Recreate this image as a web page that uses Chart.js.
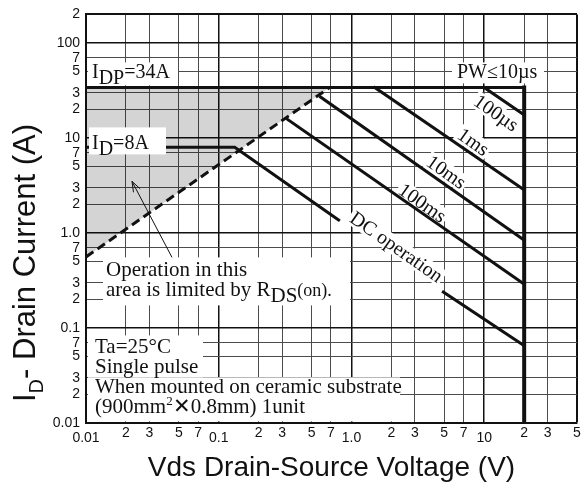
<!DOCTYPE html>
<html>
<head>
<meta charset="utf-8">
<script src="https://cdn.jsdelivr.net/npm/chart.js@4.4.0/dist/chart.umd.min.js"></script>
<style>
  html, body { margin: 0; padding: 0; background: #fff; }
</style>
</head>
<body>
<canvas id="soa" width="587" height="485"></canvas>
<script>
// axis ticks and the text printed next to them
const xTicks = [0.01,0.02,0.03,0.05,0.07,0.1,0.2,0.3,0.5,0.7,1,2,3,5,7,10,20,30,50];
const xTickLabels = ['0.01','2','3','5','7','0.1','2','3','5','7','1.0','2','3','5','7','10','2','3','5'];
const yTicks = [0.01,0.02,0.03,0.05,0.07,0.1,0.2,0.3,0.5,0.7,1,2,3,5,7,10,20,30,50,70,100,200];
const yTickLabels = ['0.01','2','3','5','7','0.1','2','3','5','7','1.0','2','3','5','7','10','2','3','5','7','100','2'];

// curves, Vds (V) against Id (A)
const idpV = [0.01, 20];     const idpI = [34, 34];
const vmaxV = [20, 20];      const vmaxI = [34, 0.01];
const rdsV = [0.01, 0.684];  const rdsI = [0.56, 34];
const us100V = [10, 20];     const us100I = [34, 17.5];
const ms1V = [1.5, 20];      const ms1I = [34, 2.84];
const ms10V = [0.585, 20];   const ms10I = [27, 0.84];
const ms100V = [0.324, 20];  const ms100I = [16, 0.29];
const dcV = [0.01, 0.132, 0.80, null, 4.92, 20];
const dcI = [8, 8, 1.37, null, 0.239, 0.065];

// labels written along the curves (centre given in data units)
const curveLabels = [
  { text: '100µs', x: 12.3, y: 18.3 },
  { text: '1ms', x: 8.26, y: 9.08 },
  { text: '10ms', x: 5.18, y: 4.38 },
  { text: '100ms', x: 3.42, y: 2.07 },
  { text: 'DC operation', x: 2.18, y: 0.713 }
];

const serif = '"Liberation Serif", "Times New Roman", serif';
const sans = '"Liberation Sans", Arial, sans-serif';

const pts = (xs, ys) => xs.map((v, i) => ({ x: v, y: ys[i] }));
const isDecade = v => Math.abs(Math.log10(v) - Math.round(Math.log10(v))) < 1e-6;

function curve(data, extra) {
  return Object.assign({
    data: data,
    borderColor: '#111',
    borderWidth: 3,
    pointRadius: 0,
    fill: false,
    tension: 0,
    spanGaps: false,
    borderCapStyle: 'square'
  }, extra || {});
}

// text made of pieces, each with its own size and vertical shift
function runs(ctx, x, y, parts) {
  let cx = x;
  for (const [t, size, dy] of parts) {
    ctx.font = size + 'px ' + serif;
    ctx.fillText(t, cx, y + dy);
    cx += ctx.measureText(t).width;
  }
  return cx;
}

// boxes and texts placed relative to the plot area (left, top)
const notes = [
  { boxes: [[2, 48, 90, 23]], lines: [[6, 64, [['I', 20, 0], ['DP', 20, 6], ['=34A', 20, 0]]]] },
  { boxes: [[366, 48, 92, 21]], lines: [[371, 64, [['PW≤10µs', 20, 0]]]] },
  { boxes: [[3, 113, 77, 27]], lines: [[6, 135, [['I', 20, 0], ['D', 20, 6], ['=8A', 20, 0]]]] },
  { boxes: [[17, 243, 247, 48]], lines: [
      [20, 262, [['Operation in this', 21, 0]]],
      [20, 282, [['area is limited by R', 21, 0], ['DS', 21, 6], ['(on).', 18, 0]]]
  ] },
  { boxes: [[2, 321, 115, 42], [2, 363, 312, 44]], lines: [
      [9, 339, [['Ta=25°C', 21, 0]]],
      [9, 359, [['Single pulse', 21, 0]]],
      [9, 379, [['When mounted on ceramic substrate', 21, 0]]],
      [9, 399, [['(900mm', 21, 0], ['2', 13, -8], ['✕0.8mm) 1unit', 21, 0]]]
  ] }
];

const labelPlugin = {
  id: 'labels',
  beforeDatasetsDraw(chart) {
    const ctx = chart.ctx, sx = chart.scales.x, sy = chart.scales.y;
    ctx.save();
    ctx.font = '20px ' + serif;
    ctx.fillStyle = '#fff';
    for (const l of curveLabels) {
      const w = ctx.measureText(l.text).width + 4;
      ctx.save();
      ctx.translate(sx.getPixelForValue(l.x), sy.getPixelForValue(l.y));
      ctx.rotate(35 * Math.PI / 180);
      ctx.fillRect(-w / 2, -9, w, 18);
      ctx.restore();
    }
    ctx.restore();
  },
  afterDatasetsDraw(chart) {
    const ctx = chart.ctx, sx = chart.scales.x, sy = chart.scales.y;
    const a = chart.chartArea;
    ctx.save();
    ctx.fillStyle = '#111';
    ctx.textBaseline = 'middle';
    ctx.textAlign = 'center';
    ctx.font = '20px ' + serif;
    for (const l of curveLabels) {
      ctx.save();
      ctx.translate(sx.getPixelForValue(l.x), sy.getPixelForValue(l.y));
      ctx.rotate(35 * Math.PI / 180);
      ctx.fillText(l.text, 0, 1);
      ctx.restore();
    }
    ctx.textAlign = 'left';
    ctx.textBaseline = 'alphabetic';
    for (const n of notes) {
      ctx.fillStyle = '#fff';
      for (const b of n.boxes) ctx.fillRect(a.left + b[0], a.top + b[1], b[2], b[3]);
      ctx.fillStyle = '#111';
      for (const [x, y, parts] of n.lines) runs(ctx, a.left + x, a.top + y, parts);
    }
    // arrow pointing into the Rds(on) limited area
    const tx = a.left + 46, ty = a.top + 167, fx = a.left + 86, fy = a.top + 243;
    const ang = Math.atan2(ty - fy, tx - fx);
    ctx.strokeStyle = '#111';
    ctx.lineWidth = 1;
    ctx.beginPath();
    ctx.moveTo(fx, fy);
    ctx.lineTo(tx, ty);
    ctx.moveTo(tx - 11 * Math.cos(ang - 0.35), ty - 11 * Math.sin(ang - 0.35));
    ctx.lineTo(tx, ty);
    ctx.lineTo(tx - 11 * Math.cos(ang + 0.35), ty - 11 * Math.sin(ang + 0.35));
    ctx.stroke();
    ctx.restore();
  },
  afterDraw(chart) {
    // y axis title with subscript D
    const ctx = chart.ctx;
    const parts = [['I', 31, 0], ['D', 20, 8], ['- Drain Current (A)', 31, 0]];
    let total = 0;
    for (const [t, s] of parts) { ctx.font = s + 'px ' + sans; total += ctx.measureText(t).width; }
    ctx.save();
    ctx.translate(24, 263);
    ctx.rotate(-Math.PI / 2);
    ctx.fillStyle = '#111';
    ctx.textBaseline = 'alphabetic';
    let cx = -total / 2;
    for (const [t, s, dy] of parts) {
      ctx.font = s + 'px ' + sans;
      ctx.fillText(t, cx, 11 + dy);
      cx += ctx.measureText(t).width;
    }
    ctx.restore();
  }
};

function gridFor(max) {
  return {
    drawTicks: false,
    color: c => (c.tick && (isDecade(c.tick.value) || c.tick.value === max)) ? '#111' : '#4c4c4c',
    lineWidth: c => !c.tick ? 1 : (c.tick.value === max ? 2 : (isDecade(c.tick.value) ? 1.5 : 1))
  };
}

new Chart(document.getElementById('soa'), {
  type: 'line',
  data: {
    datasets: [
      curve(pts(idpV, idpI), { label: 'IDP' }),
      curve(pts(vmaxV, vmaxI), { label: 'Vdss', borderWidth: 4 }),
      curve(pts(us100V, us100I), { label: '100us' }),
      curve(pts(ms1V, ms1I), { label: '1ms' }),
      curve(pts(ms10V, ms10I), { label: '10ms' }),
      curve(pts(ms100V, ms100I), { label: '100ms' }),
      curve(pts(dcV, dcI), { label: 'DC' }),
      curve(pts(rdsV, rdsI), { label: 'Rds(on)', borderDash: [9, 5], borderCapStyle: 'butt' }),
      curve(pts([rdsV[0], rdsV[1]], [idpI[0], idpI[1]]), {
        label: 'area', borderWidth: 0, fill: { target: 7 }, backgroundColor: 'rgba(0,0,0,0.17)'
      })
    ]
  },
  options: {
    responsive: false,
    animation: false,
    devicePixelRatio: 1,
    layout: { padding: { top: 14, right: 10, left: 0, bottom: 0 } },
    plugins: { legend: { display: false }, tooltip: { enabled: false } },
    scales: {
      x: {
        type: 'logarithmic',
        min: 0.01,
        max: 50,
        afterBuildTicks: s => { s.ticks = xTicks.map(v => ({ value: v })); },
        afterFit: s => { s.height = 62; },
        ticks: {
          autoSkip: false,
          maxRotation: 0,
          padding: 2,
          color: '#111',
          callback: (v, i) => xTickLabels[i],
          font: c => ({ family: sans, size: 14, lineHeight: (c.tick && isDecade(c.tick.value)) ? 1.9 : 1.2 })
        },
        grid: gridFor(50),
        border: { color: '#111', width: 2 },
        title: {
          display: true,
          text: 'Vds Drain-Source Voltage (V)',
          color: '#111',
          font: { family: sans, size: 28 },
          padding: { top: 0, bottom: 0 }
        }
      },
      y: {
        type: 'logarithmic',
        min: 0.01,
        max: 200,
        afterBuildTicks: s => { s.ticks = yTicks.map(v => ({ value: v })); },
        afterFit: s => { s.width = 86; },
        ticks: {
          autoSkip: false,
          padding: 6,
          color: '#111',
          callback: (v, i) => yTickLabels[i],
          font: { family: sans, size: 14 }
        },
        grid: gridFor(200),
        border: { color: '#111', width: 2 }
      }
    }
  },
  plugins: [labelPlugin]
});
</script>
</body>
</html>
